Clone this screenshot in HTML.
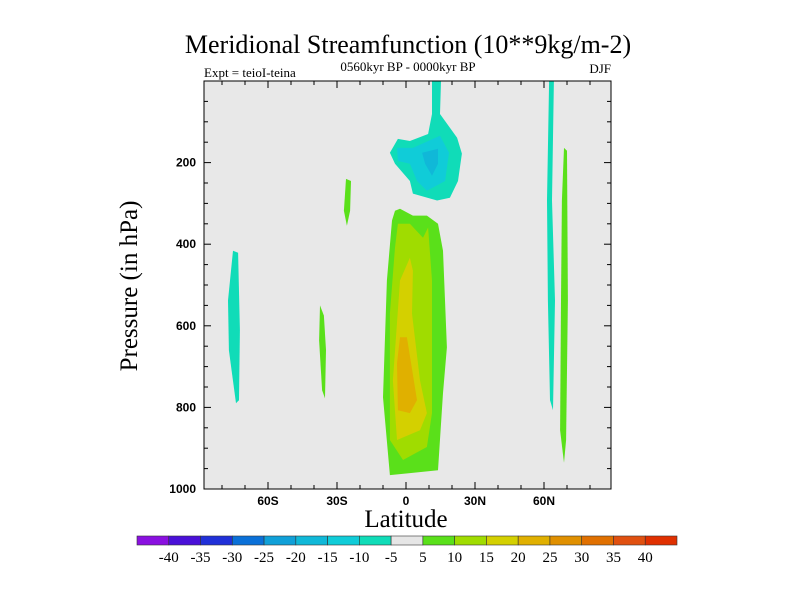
<!DOCTYPE html>
<html><head><meta charset="utf-8">
<style>
html,body{margin:0;padding:0;background:#fff;}
svg{display:block;}
.serif{font-family:"Liberation Serif",serif;}
.sans{font-family:"Liberation Sans",sans-serif;}
</style></head>
<body>
<svg id="chart" width="800" height="600" viewBox="0 0 800 600" xmlns="http://www.w3.org/2000/svg">
<rect width="800" height="600" fill="#fff"/>
<text class="serif" x="408" y="53" font-size="26" text-anchor="middle">Meridional Streamfunction (10**9kg/m-2)</text>
<text class="serif" x="408" y="71" font-size="13" text-anchor="middle">0560kyr BP - 0000kyr BP</text>
<text class="serif" x="204" y="77" font-size="13">Expt = teioI-teina</text>
<text class="serif" x="611" y="73" font-size="13" text-anchor="end">DJF</text>
<rect x="204" y="81" width="407" height="408" fill="#e8e8e8"/>
<g id="contours"></g>
<g id="axes"></g>
<rect x="204" y="81" width="407" height="408" fill="none" stroke="#000" stroke-width="1"/>
<text class="serif" x="406" y="527" font-size="25" text-anchor="middle">Latitude</text>
<text class="serif" x="0" y="0" font-size="25" text-anchor="middle" transform="translate(137,286) rotate(-90)">Pressure (in hPa)</text>
<g id="colorbar"></g>
</svg>
<script>
var levelValues = [5, 10, 15, 20, -5, -10, -15, -5, 5, 5, -5, 5];
var blobLats = [
 [-4.8,-2.6,3.0,9.1,13.9,16.1,17.8,16.1,13.9,1.7,-7.0,-10.0,-8.3,-6.1],
 [-3.5,1.7,7.4,9.6,11.3,11.3,9.1,-1.3,-7.0,-7.0,-4.8],
 [1.7,3.0,2.6,6.1,9.1,6.1,-3.9,-5.7,-2.6],
 [-2.6,0.4,4.8,1.7,-3.5,-3.9],
 [11.3,15.2,14.8,22.2,24.3,22.6,19.1,13.5,3.0,1.7,-4.8,-7.0,-3.5,1.7,9.6,11.3],
 [-3.9,3.0,14.8,18.7,17.0,9.1,4.8,1.7,-3.5],
 [7.0,13.9,13.9,11.3,8.3],
 [-75.2,-73.0,-72.2,-72.6,-73.9,-77.0,-77.4],
 [-37.4,-35.7,-34.8,-35.2,-36.5,-37.8],
 [-26.1,-23.9,-24.3,-25.7,-27.0],
 [62.2,64.3,63.5,64.8,63.9,62.6,61.7,61.3],
 [68.7,70.0,70.4,69.6,68.7,67.0,67.4,67.8]
];
var blobPres = [
 [318,313,330,330,350,416,653,765,954,961,966,775,489,342],
 [350,350,384,359,489,814,897,929,880,570,408],
 [433,465,570,734,814,856,880,734,489],
 [628,628,782,814,807,692],
 [0,0,81,139,178,245,286,293,276,245,203,176,142,147,130,81],
 [164,164,134,176,245,269,245,203,196],
 [176,166,203,232,203],
 [416,421,611,782,790,660,538],
 [550,575,660,778,758,636],
 [240,245,318,355,318],
 [0,0,293,538,807,782,538,293],
 [164,171,538,880,936,856,538,293]
];
var xTickLabels = ["60S","30S","0","30N","60N"];
var xTickValues = [-60,-30,0,30,60];
var yTickValues = [200,400,600,800,1000];
var cbLabels = ["-40","-35","-30","-25","-20","-15","-10","-5","5","10","15","20","25","30","35","40"];
var cbColors = ["#8a10e0","#4a10d8","#2030d8","#0a70d8","#10a0d8","#10b8d8","#10ccd8","#10dcb8","#e6e6e6","#5ae01a","#a0dc00","#d4d000","#e0b000","#e09000","#e07000","#e05010","#e03000"];
var levelEdges = [-40,-35,-30,-25,-20,-15,-10,-5,5,10,15,20,25,30,35,40];

var NS="http://www.w3.org/2000/svg";
function xs(lat){return 406+lat*2.3;}
function ys(p){return 81+p*0.408;}
function colorFor(v){
  var i=0; while(i<levelEdges.length && v>=levelEdges[i]) i++;
  if(v<0){i=0; while(i<levelEdges.length && v>levelEdges[i]) i++;}
  return cbColors[i];
}
var cg=document.getElementById('contours');
for(var b=0;b<blobLats.length;b++){
  var pts=[];
  for(var k=0;k<blobLats[b].length;k++) pts.push(xs(blobLats[b][k]).toFixed(1)+','+ys(blobPres[b][k]).toFixed(1));
  var pg=document.createElementNS(NS,'polygon');
  pg.setAttribute('points',pts.join(' '));
  pg.setAttribute('fill',colorFor(levelValues[b]));
  
  
  cg.appendChild(pg);
}
var ag=document.getElementById('axes');
function line(x1,y1,x2,y2,name){
  var l=document.createElementNS(NS,'line');
  l.setAttribute('x1',x1);l.setAttribute('y1',y1);l.setAttribute('x2',x2);l.setAttribute('y2',y2);
  l.setAttribute('stroke','#000');l.setAttribute('stroke-width','1');
  
  
  ag.appendChild(l);
}
for(var lat=-80;lat<=80;lat+=10){
  var big=(lat%30===0); var len=big?7:4; var x=xs(lat);
  line(x,489,x,489-len,'x-tick');
  line(x,81,x,81+len,'x-tick-top');
}
for(var p=50;p<1000;p+=50){
  var big2=(p%200===0); var len2=big2?7:4; var y=ys(p);
  line(204,y,204+len2,y,'y-tick');
  line(611,y,611-len2,y,'y-tick-right');
}
for(var i=0;i<xTickValues.length;i++){
  var t=document.createElementNS(NS,'text');
  t.setAttribute('x',xs(xTickValues[i]));t.setAttribute('y',505);
  t.setAttribute('text-anchor','middle');t.setAttribute('font-size','12');
  t.setAttribute('font-weight','bold');
  t.setAttribute('class','sans');
  
  
  t.textContent=xTickLabels[i];ag.appendChild(t);
}
for(var j=0;j<yTickValues.length;j++){
  var t2=document.createElementNS(NS,'text');
  t2.setAttribute('x',196);t2.setAttribute('y',ys(yTickValues[j])+4);
  t2.setAttribute('text-anchor','end');t2.setAttribute('font-size','12');
  t2.setAttribute('font-weight','bold');
  t2.setAttribute('class','sans');
  
  
  t2.textContent=yTickValues[j];ag.appendChild(t2);
}
var cb=document.getElementById('colorbar');
var bw=540/cbColors.length;
for(var c=0;c<cbColors.length;c++){
  var r=document.createElementNS(NS,'rect');
  r.setAttribute('x',137+c*bw);r.setAttribute('y',536);r.setAttribute('width',bw);r.setAttribute('height',9);
  r.setAttribute('fill',cbColors[c]);r.setAttribute('stroke','#333');r.setAttribute('stroke-width','0.6');
  
  
  cb.appendChild(r);
}
for(var m=0;m<cbLabels.length;m++){
  var t3=document.createElementNS(NS,'text');
  t3.setAttribute('x',137+(m+1)*bw);t3.setAttribute('y',562);
  t3.setAttribute('text-anchor','middle');t3.setAttribute('font-size','15');
  t3.setAttribute('class','serif');
  
  
  t3.textContent=cbLabels[m];cb.appendChild(t3);
}
</script>
</body></html>
